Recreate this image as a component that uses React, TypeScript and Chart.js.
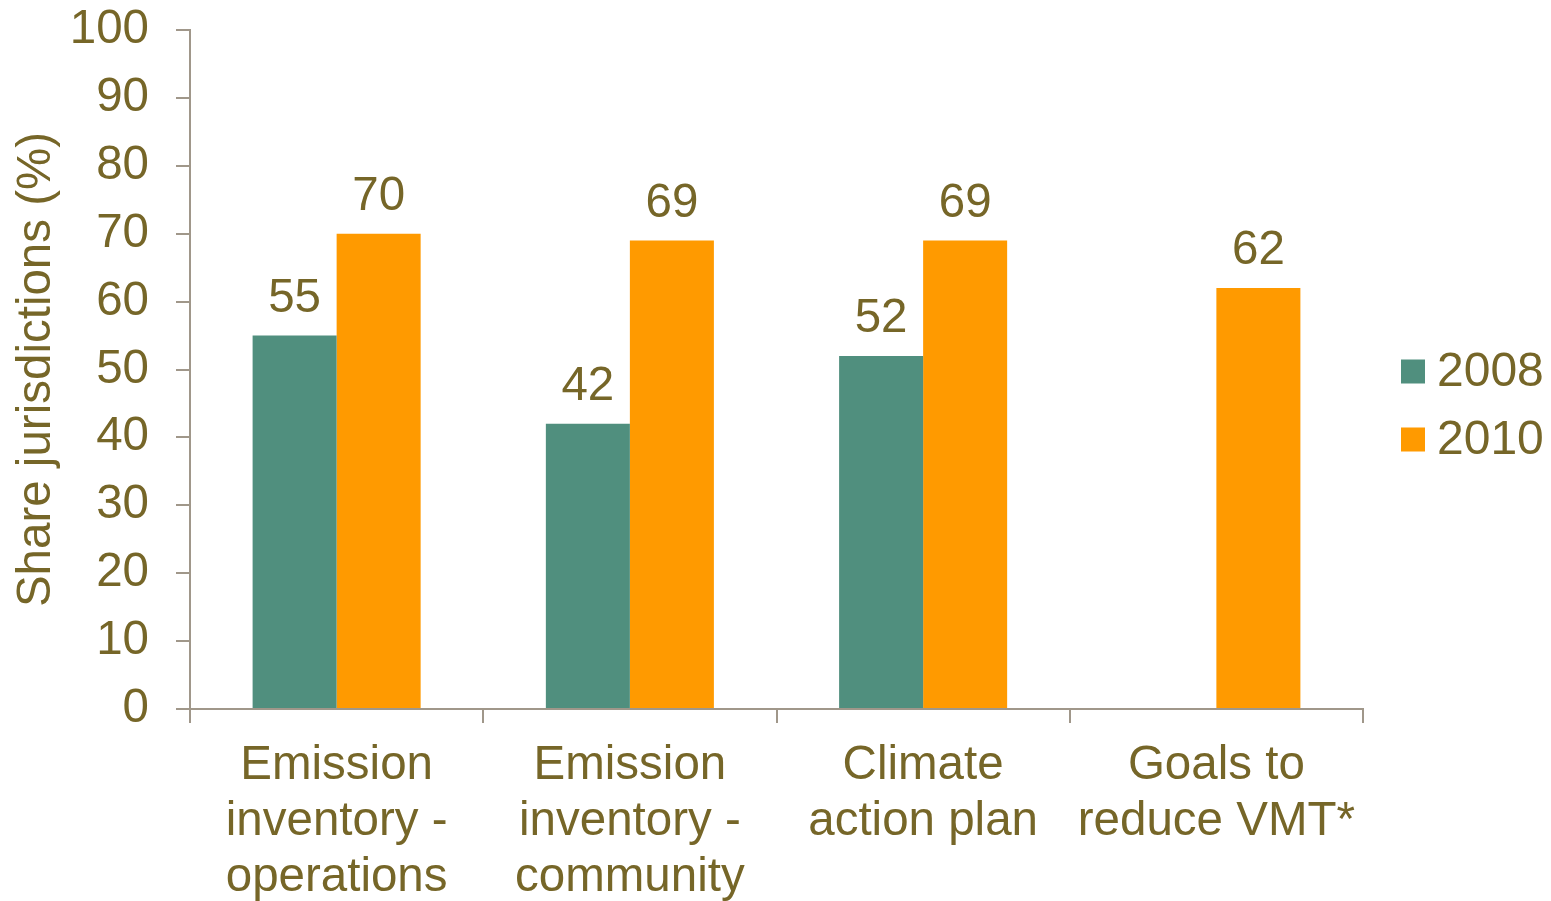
import React, { useEffect, useRef } from "react";
import { Chart, registerables } from "chart.js";

Chart.register(...registerables);

const categories: string[][] = [
  ["Emission", "inventory -", "operations"],
  ["Emission", "inventory -", "community"],
  ["Climate", "action plan"],
  ["Goals to", "reduce VMT*"],
];
const seriesLabels = ["2008", "2010"];
const values2008: (number | null)[] = [55, 42, 52, null];
const values2010: (number | null)[] = [70, 69, 69, 62];
const yTicks = [0, 10, 20, 30, 40, 50, 60, 70, 80, 90, 100];

const TEXT = "#766628";
const AXIS = "#A0978A";
const GREEN = "#508F7E";
const ORANGE = "#FF9A00";
const FONT = "'Liberation Sans', Arial, sans-serif";
const FS = 47.5;

const valueLabels = {
  id: "valueLabels",
  afterDatasetsDraw(chart: any) {
    const ctx = chart.ctx;
    ctx.save();
    ctx.font = `${FS}px ${FONT}`;
    ctx.fillStyle = TEXT;
    ctx.textAlign = "center";
    ctx.textBaseline = "middle";
    chart.data.datasets.forEach((ds: any, i: number) => {
      const meta = chart.getDatasetMeta(i);
      meta.data.forEach((el: any, j: number) => {
        const v = ds.data[j];
        if (v === null || v === undefined) return;
        ctx.fillText(String(v), el.x, el.y - 37);
      });
    });
    ctx.restore();
  },
};

const customLegend = {
  id: "customLegend",
  afterDraw(chart: any) {
    const ctx = chart.ctx;
    const area = chart.chartArea;
    ctx.save();
    ctx.font = `48px ${FONT}`;
    ctx.textBaseline = "middle";
    ctx.textAlign = "left";
    const cy0 = (area.top + area.bottom) / 2 + 2;
    chart.data.datasets.forEach((ds: any, i: number) => {
      const cy = cy0 + i * 68;
      const bx = area.right + 38;
      ctx.fillStyle = ds.backgroundColor;
      ctx.fillRect(bx, cy - 12, 24, 24);
      ctx.fillStyle = TEXT;
      ctx.fillText(ds.label, bx + 36, cy + 1);
    });
    ctx.restore();
  },
};

export default function App() {
  const ref = useRef<HTMLCanvasElement | null>(null);
  useEffect(() => {
    if (!ref.current) return;
    const chart = new Chart(ref.current, {
      type: "bar",
      data: {
        labels: categories as any,
        datasets: [
          { label: seriesLabels[0], data: values2008, backgroundColor: GREEN },
          { label: seriesLabels[1], data: values2010, backgroundColor: ORANGE },
        ],
      },
      options: {
        animation: false,
        responsive: false,
        maintainAspectRatio: false,
        layout: { padding: { top: 22, right: 180, left: 0, bottom: 0 } },
        datasets: { bar: { categoryPercentage: 0.573, barPercentage: 1 } },
        plugins: {
          legend: { display: false },
          tooltip: { enabled: false },
          title: { display: false },
        },
        scales: {
          x: {
            afterFit: (s: any) => {
              s.height = 192;
              s.paddingLeft = 0;
              s.paddingRight = 0;
            },
            grid: {
              offset: true,
              drawOnChartArea: false,
              drawTicks: true,
              tickLength: 14,
              color: AXIS,
              lineWidth: 2,
            },
            border: { color: AXIS, width: 2 },
            ticks: {
              color: TEXT,
              font: { family: FONT, size: FS, lineHeight: 56 / FS },
              padding: 15,
              maxRotation: 0,
              autoSkip: false,
            },
          },
          y: {
            min: 0,
            max: 100,
            afterBuildTicks: (s: any) => {
              s.ticks = yTicks.map((v) => ({ value: v }));
            },
            afterFit: (s: any) => {
              s.width = 182;
              s.paddingTop = 0;
              s.paddingBottom = 0;
            },
            grid: {
              drawOnChartArea: false,
              drawTicks: true,
              tickLength: 14,
              color: AXIS,
              lineWidth: 2,
            },
            border: { color: AXIS, width: 2 },
            ticks: {
              color: TEXT,
              font: { family: FONT, size: FS },
              padding: 27,
            },
            title: {
              display: true,
              text: "Share jurisdictions (%)",
              color: TEXT,
              font: { family: FONT, size: 47.5, lineHeight: 1.2 },
              padding: { top: 0, bottom: 0 },
            },
          },
        },
      },
      plugins: [valueLabels, customLegend],
    });
    return () => chart.destroy();
  }, []);
  return (
    <div style={{ width: 1535, height: 893 }}>
      <canvas ref={ref} width={1535} height={893} style={{ display: "block" }} />
    </div>
  );
}
